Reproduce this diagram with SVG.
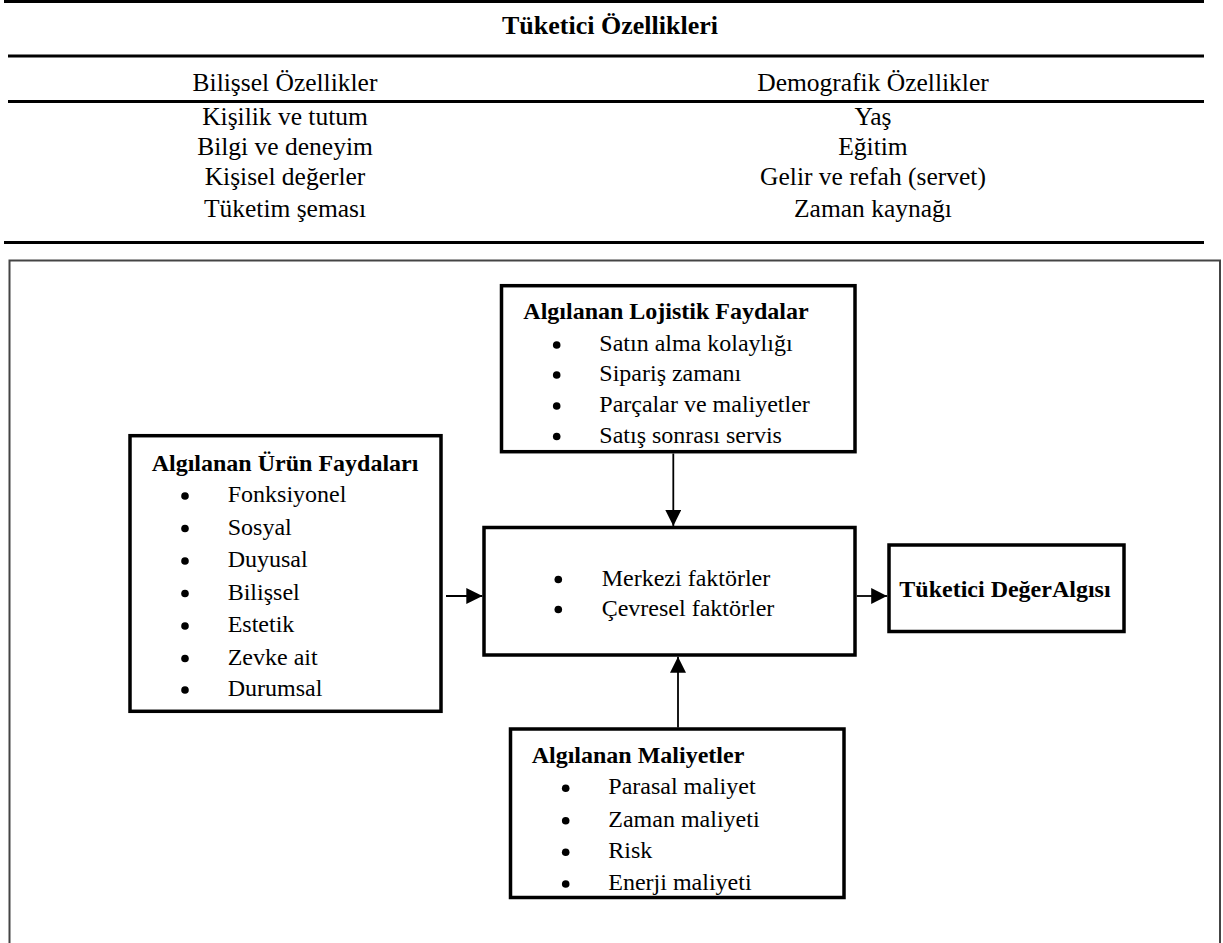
<svg xmlns="http://www.w3.org/2000/svg" width="1223" height="943" viewBox="0 0 1223 943">
<style>
.tt{font-family:"Times New Roman","Liberation Serif",Times,serif;font-size:25.5px;font-weight:400;fill:#000;text-anchor:middle}
.tb{font-family:"Liberation Serif","Times New Roman",serif;font-size:26px;font-weight:bold;fill:#000;text-anchor:middle}
.bx{fill:#fff;stroke:#000;stroke-width:3.5}
.h{font-family:"Liberation Serif","Times New Roman",serif;font-size:24px;font-weight:bold;fill:#000}
.t{font-family:"Times New Roman","Liberation Serif",Times,serif;font-size:24px;font-weight:400;fill:#000}
.rule{stroke:#000;stroke-width:3}
.con{stroke:#000;stroke-width:1.8;fill:none;marker-end:url(#ah)}
</style>
<defs>
<marker id="ah" markerUnits="userSpaceOnUse" markerWidth="16" markerHeight="16" viewBox="0 0 16 16" refX="16" refY="8" orient="auto">
<path d="M0,0 L16,8 L0,16 z" fill="#000"/>
</marker>
<circle id="b" r="3.8" fill="#000"/>
</defs>
<rect width="1223" height="943" fill="#fff"/>

<g id="table">
<line class="rule" x1="4" y1="1.5" x2="1204" y2="1.5"/>
<text class="tb" x="610" y="34">Tüketici Özellikleri</text>
<line class="rule" x1="8" y1="56" x2="1204" y2="56"/>
<text class="tt" x="285" y="90.7">Bilişsel Özellikler</text>
<text class="tt" x="873" y="90.7">Demografik Özellikler</text>
<line class="rule" x1="8" y1="101.5" x2="1204" y2="101.5"/>
<text class="tt" x="285" y="125">Kişilik ve tutum</text>
<text class="tt" x="285" y="155">Bilgi ve deneyim</text>
<text class="tt" x="285" y="185">Kişisel değerler</text>
<text class="tt" x="285" y="217">Tüketim şeması</text>
<text class="tt" x="873" y="125">Yaş</text>
<text class="tt" x="873" y="155">Eğitim</text>
<text class="tt" x="873" y="185">Gelir ve refah (servet)</text>
<text class="tt" x="873" y="217">Zaman kaynağı</text>
<line class="rule" x1="4" y1="242.5" x2="1204" y2="242.5"/>
</g>

<rect id="frame" x="9.5" y="260.5" width="1210.5" height="700" fill="none" stroke="#444" stroke-width="2"/>

<g id="connectors">
<line class="con" x1="673.3" y1="453.5" x2="673.3" y2="526"/>
<line class="con" x1="678" y1="727.5" x2="678" y2="656.8"/>
<line class="con" x1="446" y1="596" x2="482.3" y2="596"/>
<line class="con" x1="856.8" y1="596" x2="887.2" y2="596"/>
</g>

<g id="lojistik">
<rect class="bx" x="501.5" y="285.7" width="353.5" height="166"/>
<text class="h" x="523.3" y="319">Algılanan Lojistik Faydalar</text>
<use href="#b" x="556.7" y="345"/><text class="t" x="599.3" y="351">Satın alma kolaylığı</text>
<use href="#b" x="556.7" y="375"/><text class="t" x="599.3" y="381">Sipariş zamanı</text>
<use href="#b" x="556.7" y="406"/><text class="t" x="599.3" y="412">Parçalar ve maliyetler</text>
<use href="#b" x="556.7" y="436.5"/><text class="t" x="599.3" y="442.5">Satış sonrası servis</text>
</g>

<g id="urun">
<rect class="bx" x="130" y="435.7" width="311" height="275.6"/>
<text class="h" x="151.7" y="470.7">Algılanan Ürün Faydaları</text>
<use href="#b" x="185" y="496"/><text class="t" x="227.7" y="502">Fonksiyonel</text>
<use href="#b" x="185" y="528.5"/><text class="t" x="227.7" y="534.5">Sosyal</text>
<use href="#b" x="185" y="561"/><text class="t" x="227.7" y="567">Duyusal</text>
<use href="#b" x="185" y="593.5"/><text class="t" x="227.7" y="599.5">Bilişsel</text>
<use href="#b" x="185" y="626"/><text class="t" x="227.7" y="632">Estetik</text>
<use href="#b" x="185" y="658.5"/><text class="t" x="227.7" y="664.5">Zevke ait</text>
<use href="#b" x="185" y="690"/><text class="t" x="227.7" y="696">Durumsal</text>
</g>

<g id="merkez">
<rect class="bx" x="484" y="527.5" width="371" height="127.5"/>
<use href="#b" x="558.3" y="579.5"/><text class="t" x="601.7" y="586">Merkezi faktörler</text>
<use href="#b" x="558.3" y="609.5"/><text class="t" x="601.7" y="616">Çevresel faktörler</text>
</g>

<g id="deger">
<rect class="bx" x="889" y="545" width="235" height="86.5"/>
<text class="h" x="899.3" y="596.7">Tüketici DeğerAlgısı</text>
</g>

<g id="maliyet">
<rect class="bx" x="510.5" y="729" width="333.5" height="168.5"/>
<text class="h" x="531.7" y="762.7">Algılanan Maliyetler</text>
<use href="#b" x="565.7" y="788.3"/><text class="t" x="608.3" y="794.3">Parasal maliyet</text>
<use href="#b" x="565.7" y="820.7"/><text class="t" x="608.3" y="826.7">Zaman maliyeti</text>
<use href="#b" x="565.7" y="852.3"/><text class="t" x="608.3" y="858.3">Risk</text>
<use href="#b" x="565.7" y="884"/><text class="t" x="608.3" y="890">Enerji maliyeti</text>
</g>
</svg>
